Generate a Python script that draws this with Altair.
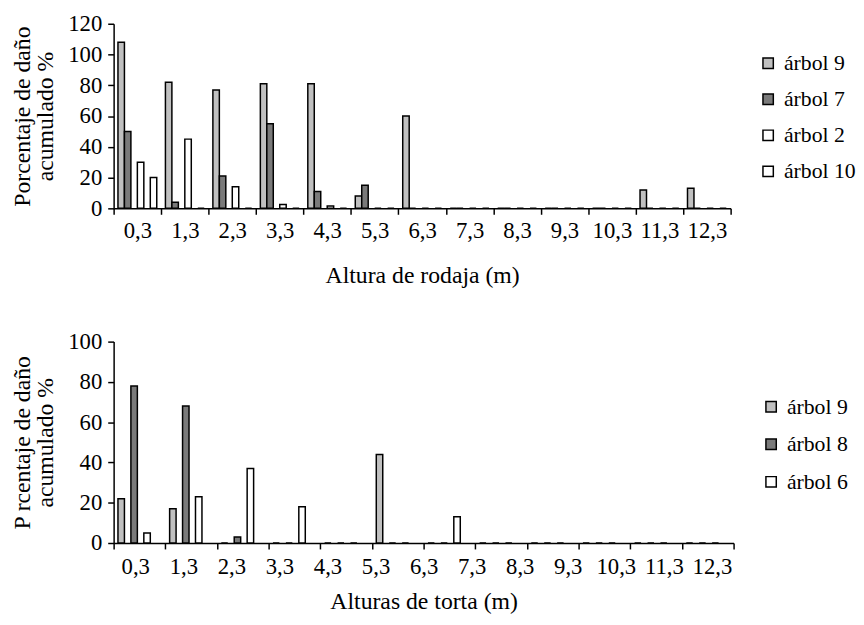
import altair as alt
import pandas as pd

FONT = "Liberation Serif"

# ---------------- top panel data ----------------
top_heights = ["0,3", "1,3", "2,3", "3,3", "4,3", "5,3", "6,3",
               "7,3", "8,3", "9,3", "10,3", "11,3", "12,3"]
top_series = ["árbol 9", "árbol 7", "árbol 2", "árbol 10"]
top_arbol_9 = [108, 82, 77, 81, 81, 8, 60, 0, 0, 0, 0, 12, 13]
top_arbol_7 = [50, 4, 21, 55, 11, 15, 0, 0, 0, 0, 0, 0, 0]
top_arbol_2 = [30, 45, 14, 2.5, 1.5, 0, 0, 0, 0, 0, 0, 0, 0]
top_arbol_10 = [20, 0, 0, 0, 0, 0, 0, 0, 0, 0, 0, 0, 0]
top_colors = ["#c0c0c0", "#7a7a7a", "#ffffff", "#ffffff"]

# ---------------- bottom panel data ----------------
bottom_bands = ["0,3", "1,3", "2,3", "3,3", "4,3", "5,3",
                "6,3", "7,3", "8,3", "9,3", "10,3", "11,3"]
bottom_tick_labels = ["0,3", "1,3", "2,3", "3,3", "4,3", "5,3", "6,3",
                      "7,3", "8,3", "9,3", "10,3", "11,3", "12,3"]
bottom_series = ["árbol 9", "árbol 8", "árbol 6"]
bottom_arbol_9 = [22, 17, 0, 0, 0, 44, 0, 0, 0, 0, 0, 0]
bottom_arbol_8 = [78, 68, 3, 0, 0, 0, 0, 0, 0, 0, 0, 0]
bottom_arbol_6 = [5, 23, 37, 18, 0, 0, 13, 0, 0, 0, 0, 0]
bottom_colors = ["#c0c0c0", "#7a7a7a", "#ffffff"]


def long_table(cats, series, columns):
    rows = []
    for s, vals in zip(series, columns):
        for c, v in zip(cats, vals):
            rows.append({"pos": c, "serie": s, "valor": v})
    return pd.DataFrame(rows)


top_df = long_table(top_heights, top_series,
                    [top_arbol_9, top_arbol_7, top_arbol_2, top_arbol_10])
bottom_df = long_table(bottom_bands, bottom_series,
                       [bottom_arbol_9, bottom_arbol_8, bottom_arbol_6])
labels_df = pd.DataFrame({"etiqueta": bottom_tick_labels})

AX = dict(labelFont=FONT, labelFontSize=23, labelColor="black",
          titleFont=FONT, titleFontSize=24, titleFontWeight="normal",
          titleColor="black", titleLineHeight=24,
          domainColor="black", domainWidth=1.5,
          tickColor="black", tickWidth=1.5, tickSize=6)
LEG = dict(labelFont=FONT, labelFontSize=22, labelColor="black",
           symbolType="square", symbolSize=110, symbolStrokeColor="black",
           symbolStrokeWidth=1.5, labelOffset=5, title=None,
           orient="none", padding=0)

top = alt.Chart(top_df).mark_bar(stroke="black", strokeWidth=1.5).encode(
    x=alt.X("pos:N", sort=top_heights,
            scale=alt.Scale(paddingInner=0, paddingOuter=0),
            axis=alt.Axis(title="Altura de rodaja (m)", labelAngle=0,
                          tickBand="extent", labelPadding=6, titlePadding=21,
                          **AX)),
    xOffset=alt.XOffset("serie:N", sort=top_series,
                        scale=alt.Scale(paddingInner=0, paddingOuter=0.67)),
    y=alt.Y("valor:Q", scale=alt.Scale(domain=[0, 120], nice=False),
            axis=alt.Axis(values=[0, 20, 40, 60, 80, 100, 120], grid=False,
                          title=["Porcentaje de daño", "acumulado %"],
                          labelPadding=6, titlePadding=10, **AX)),
    color=alt.Color("serie:N", sort=top_series,
                    scale=alt.Scale(domain=top_series, range=top_colors),
                    legend=alt.Legend(legendX=652, legendY=29, rowPadding=14.5,
                                      **LEG)),
).properties(width=625, height=187)

bars = alt.Chart(bottom_df).mark_bar(stroke="black", strokeWidth=1.5).encode(
    x=alt.X("pos:N", sort=bottom_bands,
            scale=alt.Scale(paddingInner=0, paddingOuter=0),
            axis=alt.Axis(title=None, labels=False, tickBand="extent", **AX)),
    xOffset=alt.XOffset("serie:N", sort=bottom_series,
                        scale=alt.Scale(paddingInner=0, paddingOuter=0.68)),
    y=alt.Y("valor:Q", scale=alt.Scale(domain=[0, 100], nice=False),
            axis=alt.Axis(values=[0, 20, 40, 60, 80, 100], grid=False,
                          title=["P rcentaje de daño", "acumulado %"],
                          labelPadding=6, titlePadding=10, **AX)),
    color=alt.Color("serie:N", sort=bottom_series,
                    scale=alt.Scale(domain=bottom_series, range=bottom_colors),
                    legend=alt.Legend(legendX=655, legendY=55, rowPadding=16,
                                      **LEG)),
)

tick_text = alt.Chart(labels_df).mark_point(opacity=0).encode(
    x=alt.X("etiqueta:N", sort=bottom_tick_labels,
            scale=alt.Scale(type="point", padding=0.45),
            axis=alt.Axis(orient="bottom", domain=False, ticks=False,
                          labelAngle=0, labelPadding=13, titlePadding=11,
                          title="Alturas de torta (m)", **AX)),
    y=alt.value(0),
)

bottom = alt.layer(bars, tick_text).resolve_scale(x="independent").properties(
    width=628, height=204)

chart = alt.vconcat(top, bottom, spacing=44).resolve_scale(
    color="independent").resolve_legend(color="independent").properties(
    padding={"left": 2, "top": 1, "right": 0, "bottom": 0}
).configure_view(stroke=None)

chart.save("out.html", embed_options={"renderer": "svg", "actions": False})
